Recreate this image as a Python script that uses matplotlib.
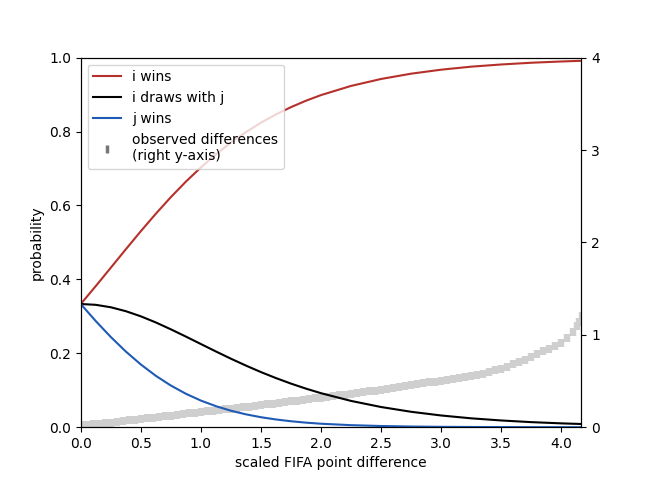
import matplotlib
matplotlib.use("Agg")
import matplotlib.pyplot as plt
from matplotlib.lines import Line2D

# model curves
x_curve = [0.0, 0.125, 0.25, 0.375, 0.5, 0.625, 0.75, 0.875, 1.0, 1.125, 1.25,
           1.375, 1.5, 1.625, 1.75, 1.875, 2.0, 2.25, 2.5, 2.75, 3.0, 3.25,
           3.5, 3.75, 4.0, 4.17]
p_i_wins = [0.3333, 0.3818, 0.4315, 0.4813, 0.5303, 0.5776, 0.6225, 0.6644,
            0.7030, 0.7383, 0.7701, 0.7985, 0.8239, 0.8463, 0.8660, 0.8834,
            0.8986, 0.9234, 0.9422, 0.9565, 0.9673, 0.9755, 0.9814, 0.9861,
            0.9895, 0.9914]
p_draw = [0.3333, 0.3311, 0.3245, 0.3139, 0.3000, 0.2834, 0.2648, 0.2452,
          0.2250, 0.2049, 0.1853, 0.1667, 0.1491, 0.1329, 0.1179, 0.1043,
          0.0920, 0.0711, 0.0546, 0.0417, 0.0317, 0.0240, 0.0182, 0.0137,
          0.0104, 0.0086]
p_j_wins = [0.3333, 0.2871, 0.2441, 0.2048, 0.1697, 0.1390, 0.1127, 0.0905,
            0.0720, 0.0569, 0.0446, 0.0348, 0.0270, 0.0209, 0.0161, 0.0123,
            0.0094, 0.0055, 0.0032, 0.0018, 0.0010, 0.0006, 0.0003, 0.0002,
            0.0001, 0.0001]

# observed differences (right y-axis)
obs_x = [0.00, 0.05, 0.10, 0.15, 0.20, 0.25, 0.30, 0.35, 0.40, 0.45, 0.50,
         0.55, 0.60, 0.65, 0.70, 0.75, 0.80, 0.85, 0.90, 0.95, 1.00, 1.05,
         1.10, 1.15, 1.20, 1.25, 1.30, 1.35, 1.40, 1.45, 1.50, 1.55, 1.60,
         1.65, 1.70, 1.75, 1.80, 1.85, 1.90, 1.95, 2.00, 2.05, 2.10, 2.15,
         2.20, 2.25, 2.30, 2.35, 2.40, 2.45, 2.50, 2.55, 2.60, 2.65, 2.70,
         2.75, 2.80, 2.85, 2.90, 2.95, 3.00, 3.05, 3.10, 3.15, 3.20, 3.25,
         3.30, 3.35, 3.40, 3.45, 3.50, 3.55, 3.60, 3.65, 3.70, 3.75, 3.80,
         3.85, 3.90, 3.95, 4.00, 4.05, 4.10, 4.13, 4.15, 4.17]
obs_y = [0.020, 0.026, 0.032, 0.038, 0.044, 0.050, 0.058, 0.066, 0.074, 0.082,
         0.090, 0.097, 0.104, 0.111, 0.118, 0.125, 0.133, 0.141, 0.149, 0.157,
         0.165, 0.172, 0.179, 0.186, 0.193, 0.200, 0.208, 0.216, 0.224, 0.232,
         0.240, 0.248, 0.256, 0.264, 0.272, 0.280, 0.288, 0.296, 0.304, 0.312,
         0.320, 0.328, 0.336, 0.344, 0.352, 0.360, 0.369, 0.378, 0.387, 0.396,
         0.405, 0.416, 0.427, 0.438, 0.449, 0.460, 0.468, 0.476, 0.484, 0.492,
         0.500, 0.510, 0.520, 0.530, 0.540, 0.550, 0.565, 0.580, 0.597, 0.614,
         0.630, 0.655, 0.680, 0.706, 0.732, 0.760, 0.790, 0.820, 0.850, 0.880,
         0.910, 0.970, 1.030, 1.090, 1.140, 1.200]

labels = ["i wins", "i draws with j", "j wins",
          "observed differences\n(right y-axis)"]
c_red = "#b5302b"
c_black = "#000000"
c_blue = "#1f5ab4"

fig, ax = plt.subplots(figsize=(6.46, 4.8), dpi=100)
ax2 = ax.twinx()

ax2.plot(obs_x, obs_y, ls="", marker="|", color="#cfcfcf",
         markersize=5.5, markeredgewidth=4.6)
ax2.set_ylim(0, 4)
ax2.set_yticks([0, 1, 2, 3, 4])

ax.set_zorder(ax2.get_zorder() + 1)
ax.patch.set_visible(False)

ax.plot(x_curve, p_i_wins, color=c_red, lw=1.5)
ax.plot(x_curve, p_draw, color=c_black, lw=1.5)
ax.plot(x_curve, p_j_wins, color=c_blue, lw=1.5)
ax.set_xlim(0, 4.167)
ax.set_ylim(0, 1)
ax.set_xlabel("scaled FIFA point difference")
ax.set_ylabel("probability")

handles = [Line2D([], [], color=c_red, lw=1.5),
           Line2D([], [], color=c_black, lw=1.5),
           Line2D([], [], color=c_blue, lw=1.5),
           Line2D([], [], ls="", marker="|", color="#777777",
                  markersize=6, markeredgewidth=2.5)]
ax.legend(handles, labels, loc="upper left")

fig.savefig("out.png", dpi=100)
